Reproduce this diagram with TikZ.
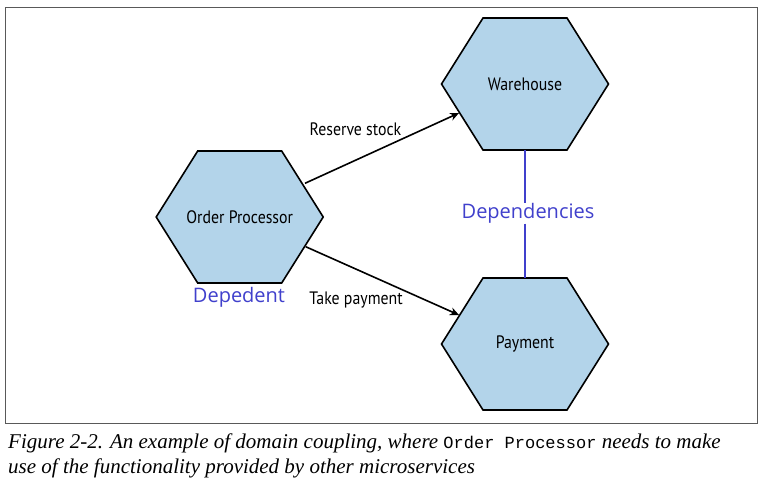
\documentclass[tikz,border=0pt]{standalone}
\usepackage{fontspec}
\setmainfont{Liberation Serif}
\newfontfamily\labfont[FakeStretch=0.88]{PT Sans}
\newfontfamily\bluefont{Open Sans}
\newfontfamily\codefont{Liberation Mono}
\usetikzlibrary{arrows.meta,calc}
\definecolor{hexfill}{RGB}{179,212,234}
\definecolor{depblue}{RGB}{64,64,204}
\tikzset{
  hexshape/.style={draw=black, fill=hexfill, line width=1.6pt, line join=miter},
  hexlabel/.style={font=\labfont\fontsize{18}{20}\selectfont, inner sep=0pt},
  edgelabel/.style={font=\labfont\fontsize{18}{20}\selectfont, inner sep=0pt},
  bluelabel/.style={font=\bluefont\fontsize{20}{23}\selectfont, text=depblue, inner sep=0pt},
  conn/.style={line width=1.6pt, -{Stealth[length=9pt,width=8pt]}},
  depline/.style={draw=depblue, line width=2.4pt},
  captext/.style={anchor=west, inner sep=0pt, font=\itshape\fontsize{21}{25}\selectfont},
}
\newcommand{\myhex}[2]{%
  \path[hexshape] ($(#1)+(-83.5,0)$) -- ($(#1)+(-42,-66)$) -- ($(#1)+(42,-66)$) -- ($(#1)+(83.5,0)$) -- ($(#1)+(42,66)$) -- ($(#1)+(-42,66)$) -- cycle;
  \coordinate (#2-top) at ($(#1)+(0,-66)$);
  \coordinate (#2-bot) at ($(#1)+(0,66)$);
}
\begin{document}
\begin{tikzpicture}[x=1pt,y=-1pt]
\useasboundingbox (0,0) rectangle (765,488);
\fill[white] (0,0) rectangle (765,488);
\draw[draw=black!65, line width=0.9pt] (5,7) rectangle (757.5,423);
\coordinate (opc) at (239.7,217);
\coordinate (whc) at (525,84);
\coordinate (pyc) at (525,344);
\myhex{opc}{op}
\myhex{whc}{wh}
\myhex{pyc}{py}
\node[hexlabel] (optext) at (opc) {Order Processor};
\node[hexlabel] (whtext) at (whc) {Warehouse};
\node[hexlabel] (pytext) at (pyc) {Payment};
\coordinate (r1) at (305,183.3);
\coordinate (r2) at (459,113);
\coordinate (t1) at (305.7,246.7);
\coordinate (t2) at (459,315);
\draw[conn] (r1) -- (r2);
\draw[conn] (t1) -- (t2);
\node[edgelabel] (rs) at (355.5,129) {Reserve stock};
\node[edgelabel] (tp) at (356,300) {Take payment};
\node[bluelabel] (dep) at (528,213.5) {Dependencies};
\draw[depline] (wh-bot) -- (wh-bot |- dep.north);
\draw[depline] (py-top |- dep.south) -- (py-top);
\node[bluelabel] (dpt) at (239,297) {Depedent};
\node[captext] (cap1) at (8,443) {Figure 2-2. An example of domain coupling, where {\upshape\codefont\fontsize{17}{25}\selectfont Order Processor} needs to make};
\node[captext] (cap2) at (8,468) {use of the functionality provided by other microservices};
\end{tikzpicture}
\end{document}
